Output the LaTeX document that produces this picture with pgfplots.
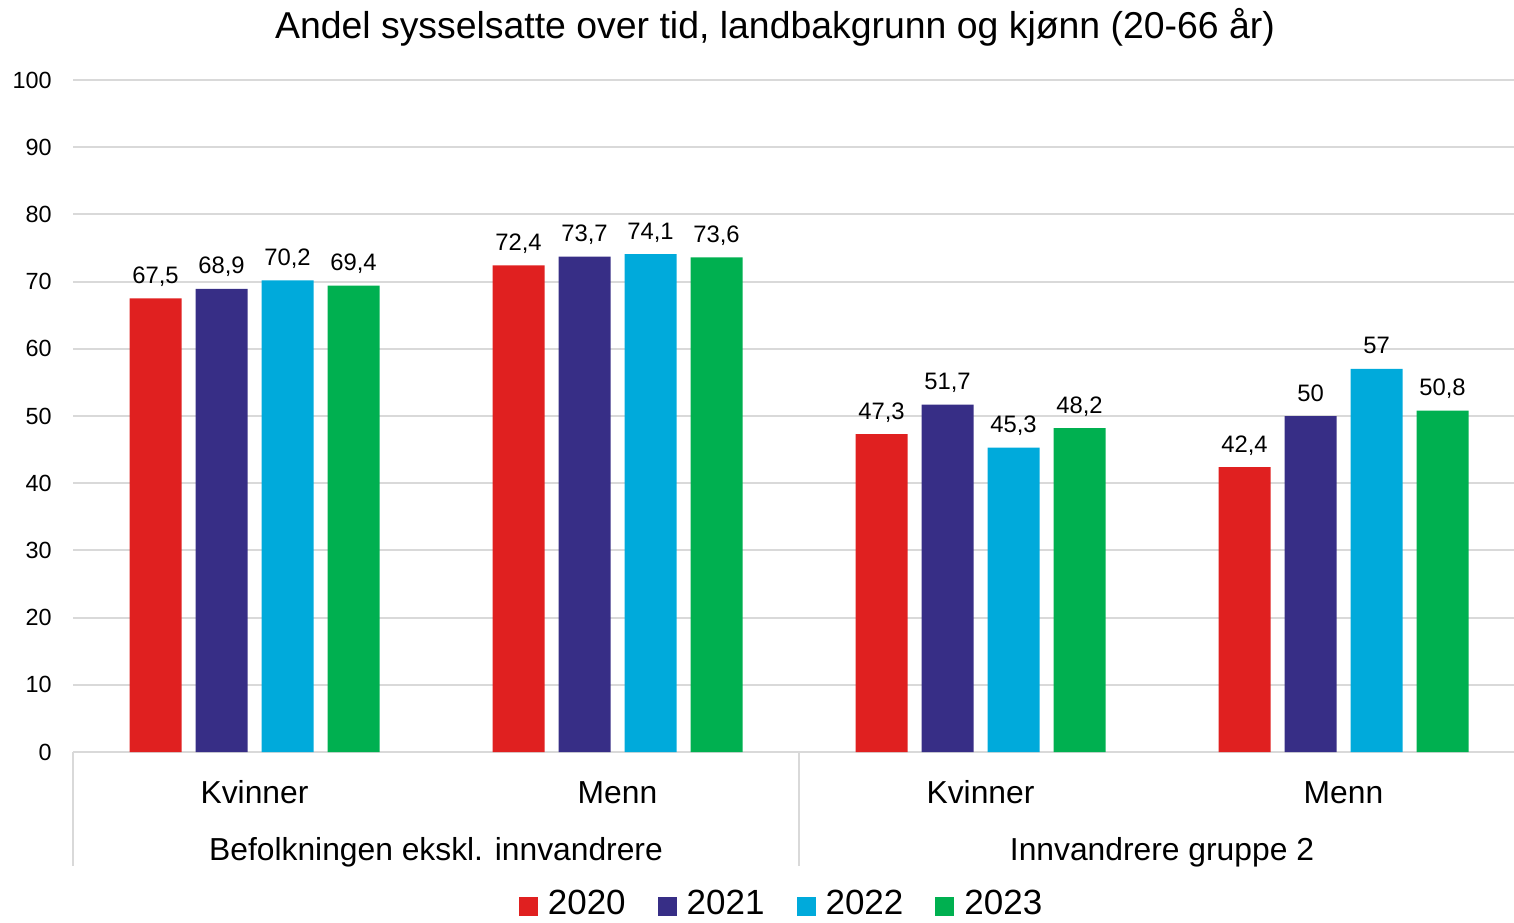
\documentclass[border=0pt]{standalone}
\usepackage{pgfplots}
\pgfplotsset{compat=1.18}
\usepackage{fontspec}
\setmainfont{Liberation Sans}
\definecolor{cRed}{RGB}{224,32,32}
\definecolor{cNavy}{RGB}{55,46,134}
\definecolor{cCyan}{RGB}{0,170,219}
\definecolor{cGreen}{RGB}{0,176,80}
\definecolor{cGrid}{RGB}{217,217,217}
\begin{document}
\begin{tikzpicture}
\useasboundingbox (-36.5pt,-85pt) rectangle (720.5pt,376pt);
\begin{axis}[
  at={(0,0)}, anchor=south west,
  scale only axis, width=726pt, height=336pt,
  xmin=0, xmax=4, ymin=0, ymax=100,
  clip=false,
  ybar=7pt, bar width=26pt,
  axis x line=bottom, axis y line=left,
  x axis line style={-, draw=cGrid, line width=1.2pt},
  y axis line style={draw=none},
  major tick length=0pt, tick style={draw=none},
  ytick={0,10,...,100},
  ymajorgrids, grid style={cGrid, line width=1pt},
  xtick={0.5,1.5,2.5,3.5},
  xticklabels={Kvinner,Menn,Kvinner,Menn},
  xticklabel style={anchor=base, inner sep=0pt, yshift=-25.5pt, font=\fontsize{15.9}{18}\selectfont},
  yticklabel style={anchor=east, inner sep=0pt, xshift=-10.5pt, font=\fontsize{11.7}{14}\selectfont},
  /pgf/number format/assume math mode=true,
  nodes near coords={\pgfmathprintnumber[use comma,fixed,precision=1,assume math mode=true]{\pgfplotspointmeta}},
  every node near coord/.append style={anchor=base, inner sep=0pt, yshift=7.5pt, font=\fontsize{11.9}{14}\selectfont, text=black},
  legend columns=4,
  legend style={draw=none, at={(rel axis cs:0.4873,0)}, yshift=-76pt, anchor=center,
    font=\fontsize{17.5}{20}\selectfont, inner sep=0pt,
    nodes={inner xsep=0pt, inner ysep=0pt},
    /tikz/every odd column/.append style={column sep=5pt},
    /tikz/every even column/.append style={column sep=16pt}},
  legend image code/.code={\fill[#1] (0pt,-6pt) rectangle (9.5pt,3.5pt);},
]
\addplot[fill=cRed, draw=none] coordinates {(0.5,67.5) (1.5,72.4) (2.5,47.3) (3.5,42.4)};
\addplot[fill=cNavy, draw=none] coordinates {(0.5,68.9) (1.5,73.7) (2.5,51.7) (3.5,50)};
\addplot[fill=cCyan, draw=none] coordinates {(0.5,70.2) (1.5,74.1) (2.5,45.3) (3.5,57)};
\addplot[fill=cGreen, draw=none] coordinates {(0.5,69.4) (1.5,73.6) (2.5,48.2) (3.5,50.8)};
\legend{2020,2021,2022,2023}
\draw[cGrid, line width=1.2pt] (axis cs:0,0) -- ++(0,-57pt);
\draw[cGrid, line width=1.2pt] (axis cs:2,0) -- ++(0,-57pt);
\node[anchor=base, font=\fontsize{15.9}{18}\selectfont] at (axis cs:1,0) [yshift=-54pt] {Befolkningen ekskl. innvandrere};
\node[anchor=base, font=\fontsize{15.9}{18}\selectfont] at (axis cs:3,0) [yshift=-54pt] {Innvandrere gruppe 2};
\node[anchor=base, font=\fontsize{18.7}{22}\selectfont] at (rel axis cs:0.4835,1) [yshift=20.5pt] {Andel sysselsatte over tid, landbakgrunn og kjønn (20-66 år)};
\end{axis}
\end{tikzpicture}
\end{document}
